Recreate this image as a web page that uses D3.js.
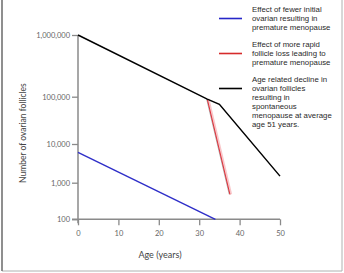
<!DOCTYPE html>
<html>
<head>
<meta charset="utf-8">
<script src="https://cdn.jsdelivr.net/npm/d3@7"></script>
<style>
  body { margin: 0; background: #fff; }
  svg { display: block; }
</style>
</head>
<body>
<div id="chart"></div>
<script>
// data
const blueAges = [0, 34];
const blueCounts = [6100, 100];
const redAges = [32, 37.6];
const redCounts = [89000, 480];
const blackAges = [0, 32, 35, 50];
const blackCounts = [1000000, 89000, 69000, 1480];

const xTicks = [0, 10, 20, 30, 40, 50];
const yTicks = [100, 1000, 10000, 100000, 1000000];

const legendItems = [
  { color: "#2626c8", lines: ["Effect of fewer initial", "ovarian resulting in", "premature menopause"] },
  { color: "#d62b2b", lines: ["Effect of more rapid", "follicle loss leading to", "premature menopause"] },
  { color: "#000", lines: ["Age related decline in", "ovarian follicles", "resulting in", "spontaneous", "menopause at average", "age 51 years."] }
];

const svgWidth = 344;
const svgHeight = 273;

const svg = d3.select("#chart")
  .append("svg")
  .attr("width", svgWidth)
  .attr("height", svgHeight);

// frame
svg.append("path")
  .attr("d", "M2,-2 V271 H342 V-2")
  .attr("fill", "none")
  .attr("stroke", "#b0b0b0")
  .attr("stroke-width", 1);
svg.append("line")
  .attr("x1", 2).attr("x2", 2).attr("y1", 0).attr("y2", 271)
  .attr("stroke", "#777").attr("stroke-width", 1.5);

const x = d3.scaleLinear()
  .domain([0, 50])
  .range([78, 280]);

// the original y axis is not evenly spaced, so use a piecewise log scale
const y = d3.scaleLog()
  .domain(yTicks)
  .range([219.3, 182.7, 144, 96.7, 35]);

const axisColor = "#8a8a8a";
const labelFont = "Lato, 'Open Sans', sans-serif";

// y axis
const yAxis = svg.append("g")
  .attr("transform", `translate(${x(0)},0)`)
  .call(d3.axisLeft(y).tickValues(yTicks).tickFormat(d3.format(",")).tickSize(6).tickPadding(2));
yAxis.select(".domain").remove();

// x axis
const xAxis = svg.append("g")
  .attr("transform", `translate(0,${y(100)})`)
  .call(d3.axisBottom(x).tickValues(xTicks).tickSize(6).tickPadding(5));
xAxis.select(".domain").remove();

[yAxis, xAxis].forEach(g => {
  g.selectAll("line").attr("stroke", axisColor).attr("stroke-width", 1.3);
  g.selectAll("text")
    .attr("fill", "#666")
    .style("font-family", labelFont)
    .style("font-size", "7.5px");
});

// axis lines, crossing at the origin
svg.append("line")
  .attr("x1", x(0)).attr("x2", x(0))
  .attr("y1", y(1000000)).attr("y2", y(100) + 4)
  .attr("stroke", axisColor).attr("stroke-width", 1.5);
svg.append("line")
  .attr("x1", x(0) - 6).attr("x2", x(50))
  .attr("y1", y(100)).attr("y2", y(100))
  .attr("stroke", axisColor).attr("stroke-width", 1.5);

// axis titles
svg.append("text")
  .attr("transform", `translate(26,${(y(1000000) + y(100)) / 2 + 6}) rotate(-90)`)
  .attr("text-anchor", "middle")
  .attr("fill", "#444")
  .style("font-family", labelFont)
  .style("font-size", "8.5px")
  .text("Number of ovarian follicles");

svg.append("text")
  .attr("x", 160)
  .attr("y", 258)
  .attr("text-anchor", "middle")
  .attr("fill", "#444")
  .style("font-family", labelFont)
  .style("font-size", "9px")
  .text("Age (years)");

const line = d3.line()
  .x(d => x(d[0]))
  .y(d => y(d[1]));

const blackData = d3.zip(blackAges, blackCounts);
const blueData = d3.zip(blueAges, blueCounts);
const redData = d3.zip(redAges, redCounts);

// red line with its pink blur
svg.append("path")
  .datum(redData)
  .attr("d", line)
  .attr("transform", "translate(1,0)")
  .attr("fill", "none")
  .attr("stroke", "#f9c6c9")
  .attr("stroke-width", 2.4);
svg.append("path")
  .datum(redData)
  .attr("d", line)
  .attr("transform", "translate(-0.6,0)")
  .attr("fill", "none")
  .attr("stroke", "#888")
  .attr("stroke-width", 0.7);
svg.append("path")
  .datum(redData)
  .attr("d", line)
  .attr("fill", "none")
  .attr("stroke", "#e0303a")
  .attr("stroke-width", 1);

svg.append("path")
  .datum(blackData)
  .attr("d", line)
  .attr("fill", "none")
  .attr("stroke", "#000")
  .attr("stroke-width", 1.5);

svg.append("path")
  .datum(blueData)
  .attr("d", line)
  .attr("fill", "none")
  .attr("stroke", "#2e2ec8")
  .attr("stroke-width", 1.4);

// legend
const legend = svg.append("g");
const legendTops = [9, 44, 79];
legendItems.forEach((item, i) => {
  const top = legendTops[i];
  const g = legend.append("g").attr("transform", `translate(0,${top})`);
  g.append("line")
    .attr("x1", 219).attr("x2", 242)
    .attr("y1", 9.5).attr("y2", 9.5)
    .attr("stroke", item.color)
    .attr("stroke-width", 1.6);
  g.selectAll("text")
    .data(item.lines)
    .enter()
    .append("text")
    .attr("x", 252)
    .attr("y", (d, j) => j * 9)
    .attr("dy", "0.35em")
    .attr("fill", "#2a2a2a")
    .style("font-family", "'Liberation Sans', Arial, sans-serif")
    .style("font-size", "7.8px")
    .text(d => d);
});
</script>
</body>
</html>
